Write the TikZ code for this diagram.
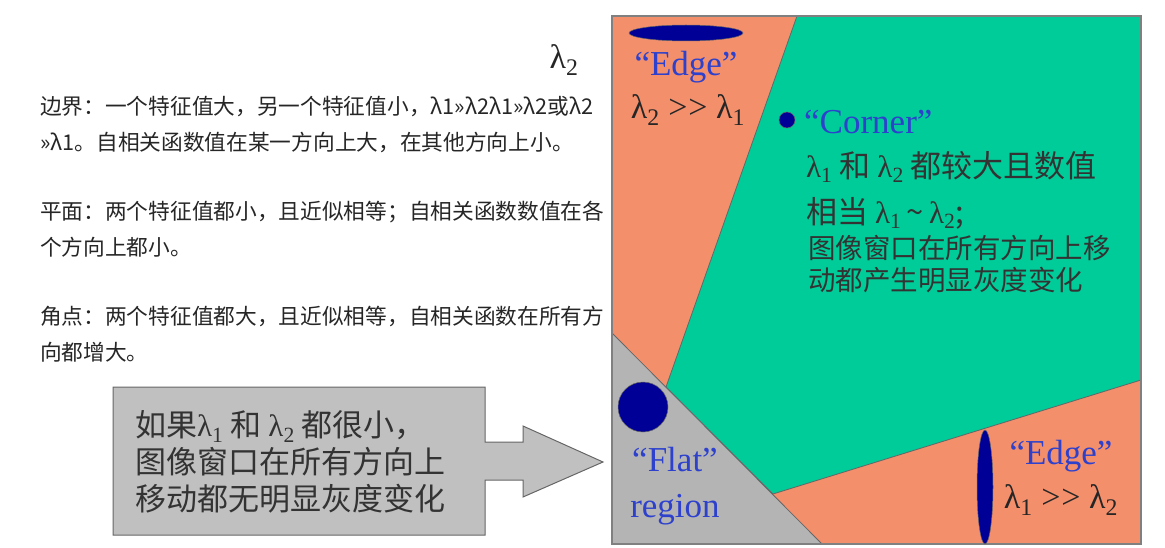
\documentclass[tikz,border=0pt]{standalone}
\usepackage{fontspec}
\setmainfont{Liberation Serif}
\newfontfamily\cjk{Noto Sans CJK SC}
\usetikzlibrary{positioning}

\definecolor{edgeorange}{RGB}{244,143,108}
\definecolor{cornergreen}{RGB}{0,204,153}
\definecolor{flatgray}{RGB}{180,180,180}
\definecolor{boxgray}{RGB}{192,192,192}
\definecolor{dotblue}{RGB}{0,0,150}
\definecolor{labelblue}{RGB}{45,65,205}

\newcommand{\lam}[1]{{\rmfamily λ\textsubscript{#1}}}
\newcommand{\muchgt}{>\kern1pt>}

\begin{document}
\begin{tikzpicture}[x=1pt,y=-1pt,
  region/.style={draw=black!60,line width=0.8pt},
  blob/.style={fill=dotblue,draw=black!60,line width=0.5pt},
  eng/.style={font=\fontsize{35}{46}\selectfont,text=labelblue,align=center,inner sep=0pt},
  rel/.style={font=\fontsize{34}{44}\selectfont,text=black!85,inner sep=0pt},
  note/.style={font=\cjk\fontsize{21.7}{36}\selectfont,text=black!85,align=left,anchor=west,inner sep=0pt},
  bigcjk/.style={font=\cjk\fontsize{31}{46}\selectfont,text=black!80,align=left,anchor=west,inner sep=0pt}]
\useasboundingbox (0,0) rectangle (1165,548);

% left notes
\node[note] (edgenote) at (40,125) {边界：一个特征值大，另一个特征值小，λ1»λ2λ1»λ2或λ2\\»λ1。自相关函数值在某一方向上大，在其他方向上小。};
\node[note] (flatnote) at (40,229) {平面：两个特征值都小，且近似相等；自相关函数数值在各\\个方向上都小。};
\node[note] (cornernote) at (40,334) {角点：两个特征值都大，且近似相等，自相关函数在所有方\\向都增大。};

% block arrow
\draw[fill=boxgray,draw=black!60,line width=1pt] (113,387) -- (485,387) -- (485,442) -- (523,442) -- (523,426)
  -- (603,462) -- (523,497) -- (523,480) -- (485,480) -- (485,535) -- (113,535) -- cycle;
\node[bigcjk,font=\cjk\fontsize{31}{37}\selectfont] (flatbox) at (135,462) {如果\lam{1} 和 \lam{2} 都很小，\\图像窗口在所有方向上\\移动都无明显灰度变化};

% axis label
\node[rel,font=\fontsize{34}{36}\selectfont] (axislbl) at (564,60) {\lam{2}};

% regions
\fill[edgeorange] (612,16) rectangle (1141,544);
\draw[region,fill=cornergreen] (797,16) -- (1141,16) -- (1141,380) -- (773,494) -- (666,387) -- cycle;
\draw[region,fill=flatgray] (612,333) -- (822,544) -- (612,544) -- cycle;
\draw[black!50,line width=1.2pt] (612,16) rectangle (1141,544);

% blobs
\draw[blob] (686,33) ellipse [x radius=57, y radius=8];
\draw[blob] (787,120) circle (8);
\draw[blob] (643,407) circle (25);
\draw[blob] (985,487) ellipse [x radius=8, y radius=57];

% labels
\node[eng] (edgetop) at (686,67) {“Edge”};
\node[rel] (edgetoprel) at (688,110) {\lam{2} \muchgt{} \lam{1}};
\node[eng,anchor=west] (cornerlbl) at (804,122) {“Corner”};
\node[bigcjk] (cornertxt) at (806,190) {\lam{1} 和 \lam{2} 都较大且数值\\相当 \lam{1}\,\textasciitilde\,\lam{2};};
\node[bigcjk,font=\cjk\fontsize{27.5}{32}\selectfont] (cornermove) at (808,264) {图像窗口在所有方向上移\\动都产生明显灰度变化};
\node[eng] (flatlbl) at (675,486) {“Flat”\\region};
\node[eng] (edgeright) at (1061,456) {“Edge”};
\node[rel] (edgerightrel) at (1061,500) {\lam{1} \muchgt{} \lam{2}};

\end{tikzpicture}
\end{document}
